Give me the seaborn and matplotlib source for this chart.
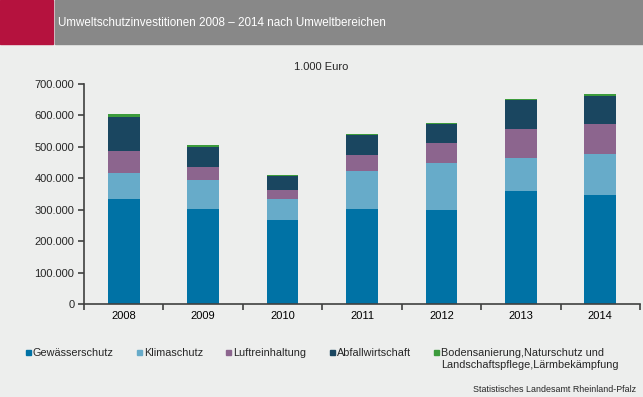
import matplotlib
matplotlib.use("Agg")
import matplotlib.pyplot as plt
from matplotlib.lines import Line2D
from matplotlib.patches import Rectangle
from matplotlib.ticker import FuncFormatter, FixedLocator
import numpy as np
import pandas as pd
import seaborn as sns

# Umweltschutzinvestitionen in 1.000 Euro
years = ["2008", "2009", "2010", "2011", "2012", "2013", "2014"]
gewaesserschutz = [334000, 302000, 268000, 302000, 299000, 360000, 347000]
klimaschutz = [83000, 93000, 66000, 122000, 150000, 105000, 131000]
luftreinhaltung = [70000, 41000, 29000, 51000, 64000, 92000, 95000]
abfallwirtschaft = [108000, 64000, 45000, 63000, 60000, 93000, 89000]
bodensanierung = [8000, 6000, 3000, 4000, 3000, 3000, 7000]

labels = ["Gewässerschutz", "Klimaschutz", "Luftreinhaltung", "Abfallwirtschaft",
          "Bodensanierung,Naturschutz und"]
label_cont = "Landschaftspflege,Lärmbekämpfung"
colors = ["#0072A5", "#67ABC9", "#8C658E", "#1A4660", "#3C9B3C"]

bg = "#EDEEED"

sns.set_style("ticks")
plt.rcParams["font.family"] = ["Liberation Sans", "DejaVu Sans"]

df = pd.DataFrame({"year": years, "Gew": gewaesserschutz, "Klima": klimaschutz,
                   "Luft": luftreinhaltung, "Abfall": abfallwirtschaft, "Boden": bodensanierung})
layers = ["Gew", "Klima", "Luft", "Abfall", "Boden"]
cum = df[layers].cumsum(axis=1)

fig = plt.figure(figsize=(6.43, 3.97), dpi=100, facecolor=bg)
ax = fig.add_axes([84/643, 1-304/397, 556/643, 220/397])
ax.set_facecolor(bg)

# stacked bars: draw cumulative totals from top layer down
for i in range(len(layers)-1, -1, -1):
    sns.barplot(x=df["year"], y=cum[layers[i]], color=colors[i], width=0.4,
                saturation=1, ax=ax, linewidth=0)

ax.set_xlim(-0.5, 6.5)
ax.set_ylim(0, 700000)
ax.set_yticks(np.arange(0, 700001, 100000))
ax.yaxis.set_major_formatter(FuncFormatter(lambda v, p: f"{int(v):,}".replace(",", ".")))
ax.set_xlabel("")
ax.set_ylabel("")
ax.xaxis.set_minor_locator(FixedLocator(np.arange(-0.5, 7, 1)))
ax.tick_params(axis="x", which="major", length=0, pad=5, labelsize=8, colors="#000000")
ax.tick_params(axis="x", which="minor", length=4, width=1.2, color="#404040")
ax.tick_params(axis="y", length=4, width=1.2, color="#404040", labelsize=8, pad=3)
for s in ["top", "right"]:
    ax.spines[s].set_visible(False)
for s in ["left", "bottom"]:
    ax.spines[s].set_color("#404040")
    ax.spines[s].set_linewidth(1.2)

# header band
fig.patches.append(Rectangle((0, 1-44/397), 53/643, 44/397, transform=fig.transFigure,
                             color="#B5123E", zorder=0))
fig.patches.append(Rectangle((55/643, 1-44/397), 588/643, 44/397, transform=fig.transFigure,
                             color="#888888", zorder=0))
fig.text(58/643, 1-23/397, "Umweltschutzinvestitionen 2008 – 2014 nach Umweltbereichen",
         color="white", fontsize=8.4, va="center", ha="left")

fig.text(321/643, 1-67/397, "1.000 Euro", fontsize=8, ha="center", va="center")

handles = [Line2D([], [], marker="s", linestyle="", markersize=3.6, color=c) for c in colors]
leg = fig.legend(handles, labels, loc="upper left", bbox_to_anchor=(25/643, 1-348/397),
                 ncol=5, frameon=False, fontsize=7.8, handlelength=0.5, handletextpad=0.2,
                 columnspacing=2.1, borderpad=0, borderaxespad=0)

# second line of the last legend label
fig.canvas.draw()
bb = leg.get_texts()[-1].get_window_extent().transformed(fig.transFigure.inverted())
fig.text(bb.x0, bb.y0 - 2/397, label_cont, fontsize=7.8, ha="left", va="top")

fig.text(636/643, 1-389/397, "Statistisches Landesamt Rheinland-Pfalz", fontsize=6.4,
         ha="right", va="center")

fig.savefig("out.png", dpi=100, facecolor=bg)
